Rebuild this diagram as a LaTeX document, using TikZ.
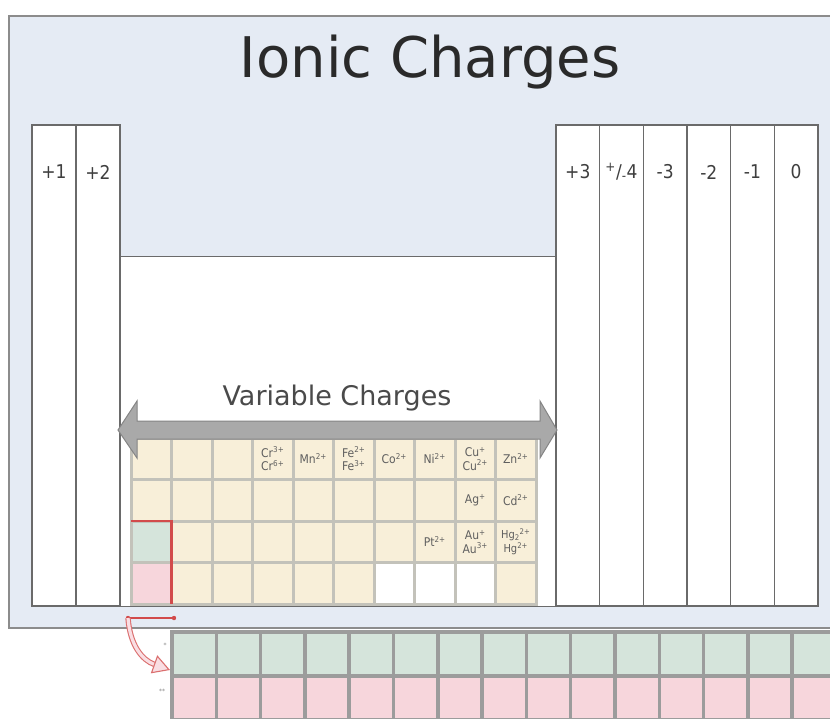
\documentclass[tikz,border=0pt]{standalone}
\usepackage{fontspec}
\setmainfont{DejaVu Sans}
\newfontfamily\condfont{DejaVu Sans Condensed}
\usetikzlibrary{arrows.meta}
\definecolor{panelfill}{HTML}{E5EBF4}
\definecolor{panelline}{HTML}{8C8C8C}
\definecolor{colline}{HTML}{6A6A6A}
\definecolor{cream}{HTML}{F8EFD9}
\definecolor{gridgray}{HTML}{C3C2BA}
\definecolor{lgreen}{HTML}{D5E4DB}
\definecolor{lpink}{HTML}{F7D6DC}
\definecolor{redline}{HTML}{D24B4B}
\definecolor{arrowfill}{HTML}{A9A9A9}
\definecolor{arrowline}{HTML}{858585}
\definecolor{bgrid}{HTML}{9C9C9C}
\definecolor{txt}{HTML}{2A2A2A}
\begin{document}
\begin{tikzpicture}[x=1pt,y=-1pt,
  colbox/.style={draw=colline, line width=1.2pt, fill=white, anchor=north west,
    inner sep=0pt, outer sep=0pt, minimum width=#1, minimum height=481pt},
  collabel/.style={font=\condfont\fontsize{19}{19}\selectfont, text=txt!90},
  cell/.style={draw=gridgray, line width=3pt, fill=cream, anchor=north west,
    inner sep=0pt, outer sep=0pt, minimum width=40.5pt, minimum height=41.5pt,
    font=\condfont\fontsize{12}{13.5}\selectfont, text=txt!75, align=center},
  lcell/.style={draw=bgrid, line width=3.5pt, anchor=north west,
    inner sep=0pt, outer sep=0pt, minimum width=44.3pt, minimum height=44pt},
  tiny/.style={font=\fontsize{6}{6}\selectfont, text=txt!60, inner sep=0pt}
]
\useasboundingbox (0,0) rectangle (830,718);
\fill[white] (0,0) rectangle (830,718);
\begin{scope}
\clip (0,0) rectangle (830,718);
% panel
\node[draw=panelline, line width=1.5pt, fill=panelfill, anchor=north west,
  inner sep=0pt, minimum width=840pt, minimum height=612pt] (panel) at (8,15) {};
\node[font=\fontsize{56}{56}\selectfont, text=txt, anchor=base] (title) at (430,77) {Ionic Charges};
% middle white region
\node[draw=colline, line width=1.2pt, fill=white, anchor=north west, inner sep=0pt,
  minimum width=436pt, minimum height=350pt] (mid) at (120,256) {};
% left columns
\node[colbox=44pt] (c1) at (32,125) {};
\node[colbox=44pt] (c2) at (76,125) {};
\node[collabel] (c1l) at (54,172) {+1};
\node[collabel] (c2l) at (98,172) {+2};
% right columns
\foreach \i/\t in {0/{+3},1/{\textsuperscript{+}/\textsubscript{-}4},2/{-3},3/{-2},4/{-1},5/{0}} {
  \node[colbox=43.67pt] (r\i) at ({556+\i*43.67},125) {};
  \node[collabel] (r\i l) at ({556+\i*43.67+21.8},172) {\t};
}
% Variable charges text
\node[font=\fontsize{27}{27}\selectfont, text=txt!85, anchor=base] (vc) at (337,405) {Variable Charges};
% grid
\foreach \r in {1,...,4} \foreach \c in {1,...,10}
  \node[cell] (g\r-\c) at ({131+(\c-1)*40.5},{438+(\r-1)*41.5}) {};
\node[cell, fill=lgreen] (g3-1) at (131,{438+2*41.5}) {};
\node[cell, fill=lpink] (g4-1) at (131,{438+3*41.5}) {};
\foreach \c in {7,8,9}
  \node[cell, fill=white] (g4-\c) at ({131+(\c-1)*40.5},{438+3*41.5}) {};
\foreach \r/\c/\t in {
  1/4/{Cr\textsuperscript{3+}\\Cr\textsuperscript{6+}},
  1/5/{Mn\textsuperscript{2+}},
  1/6/{Fe\textsuperscript{2+}\\Fe\textsuperscript{3+}},
  1/7/{Co\textsuperscript{2+}},
  1/8/{Ni\textsuperscript{2+}},
  1/9/{Cu\textsuperscript{+}\\Cu\textsuperscript{2+}},
  1/10/{Zn\textsuperscript{2+}},
  2/9/{Ag\textsuperscript{+}},
  2/10/{Cd\textsuperscript{2+}},
  3/8/{Pt\textsuperscript{2+}},
  3/9/{Au\textsuperscript{+}\\Au\textsuperscript{3+}}}
  \node[cell] (g\r-\c) at ({131+(\c-1)*40.5},{438+(\r-1)*41.5}) {\t};
\node[cell, font=\condfont\fontsize{11}{12}\selectfont] (g3-10) at ({131+9*40.5},{438+2*41.5})
  {Hg\textsubscript{2}\textsuperscript{2+}\\[2pt]Hg\textsuperscript{2+}};
% red outline
\draw[redline, line width=2.2pt] (g3-1.north west) -- (g3-1.north east) -- (g4-1.south east);
% double arrow
\draw[fill=arrowfill, draw=arrowline, line width=1pt, line join=miter]
  (118,430) -- (137,401) -- (137,421) -- (540,421) -- (540,401) -- (557,430)
  -- (540,458) -- (540,439) -- (137,439) -- (137,458) -- cycle;
% lower rows
\foreach \k in {1,...,15} {
  \node[lcell, fill=lgreen] (la\k) at ({172+(\k-1)*44.3},632) {};
  \node[lcell, fill=lpink] (lb\k) at ({172+(\k-1)*44.3},676) {};
}
\node[tiny] (s1) at (165,645) {*};
\node[tiny] (s2) at (162,691) {**};
% bracket and arrow
\coordinate (bra) at (128,618);
\coordinate (brb) at (174,618);
\coordinate (tip) at (170,670);
\draw[redline, line width=2.4pt] (bra) -- (brb);
\fill[redline] (bra) circle (2.2pt) (brb) circle (2.2pt);
\draw[redline!80, double=lpink!80, double distance=3.2pt, line width=1.1pt,
  -{Triangle[length=17pt,width=19pt,fill=lpink!80]}]
  (bra) .. controls (130,645) and (142,660) .. (tip);
\end{scope}
\end{tikzpicture}
\end{document}
